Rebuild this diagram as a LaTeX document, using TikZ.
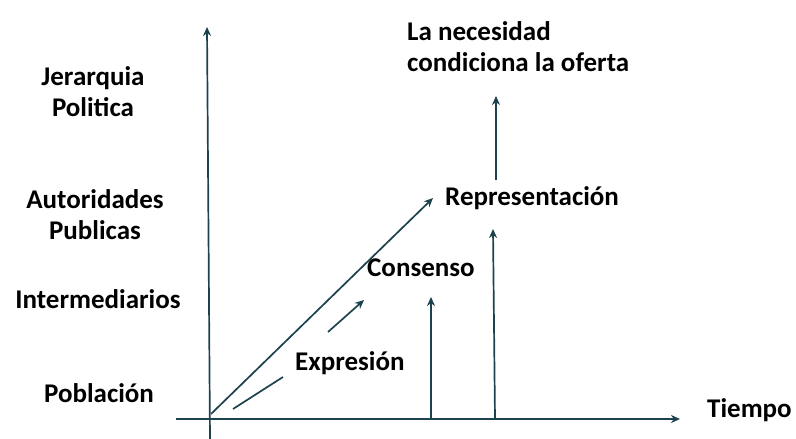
\documentclass[tikz,border=0pt]{standalone}
\usepackage{fontspec}
\setmainfont{Carlito}
\usetikzlibrary{arrows.meta}
\definecolor{axis}{RGB}{28,66,78}
\tikzset{
  lbl/.style={font=\bfseries\fontsize{27}{31}\selectfont, text=black, inner sep=0pt},
  ar/.style={draw=axis, line width=1.7pt, -{Stealth[length=9pt,width=8pt]}},
  ln/.style={draw=axis, line width=1.7pt}
}
\begin{document}
\begin{tikzpicture}[x=1pt,y=1pt]
\useasboundingbox (0,0) rectangle (796,439);
% axes
\coordinate (vbot) at (210,0);
\coordinate (vtop) at (207,412);
\coordinate (hleft) at (176,20);
\coordinate (hright) at (680,20);
\coordinate (o) at (211,25);
\draw[ar] (vbot) -- (vtop);
\draw[ar] (hleft) -- (hright);
% diagonal
\coordinate (dtip) at (433,241);
\draw[ar] (o) -- (dtip);
\coordinate (s1a) at (233,30);
\coordinate (s1b) at (283,62);
\draw[ln] (s1a) -- (s1b);
\coordinate (s2a) at (328,107);
\coordinate (s2b) at (364,139);
\draw[ar] (s2a) -- (s2b);
% verticals
\coordinate (v1a) at (431,20);
\coordinate (v1b) at (431,142);
\draw[ar] (v1a) -- (v1b);
\coordinate (v2a) at (495,20);
\coordinate (v2b) at (493,210);
\draw[ar] (v2a) -- (v2b);
\coordinate (v3a) at (496,259);
\coordinate (v3b) at (496,343);
\draw[ar] (v3a) -- (v3b);
% labels
\node[lbl, align=center] (jer) at (93,347) {Jerarquia\\Politica};
\node[lbl, align=center] (aut) at (95,224) {Autoridades\\Publicas};
\node[lbl] (int) at (98,140) {Intermediarios};
\node[lbl] (pob) at (99,46) {Población};
\node[lbl, anchor=west] (exp) at (295,76) {Expresión};
\node[lbl, anchor=west] (con) at (367,171) {Consenso};
\node[lbl, anchor=west] (rep) at (445,241) {Representación};
\node[lbl, anchor=west, align=left] (nec) at (407,392) {La necesidad\\condiciona la oferta};
\node[lbl, anchor=west] (tie) at (707,29) {Tiempo};
\end{tikzpicture}
\end{document}
